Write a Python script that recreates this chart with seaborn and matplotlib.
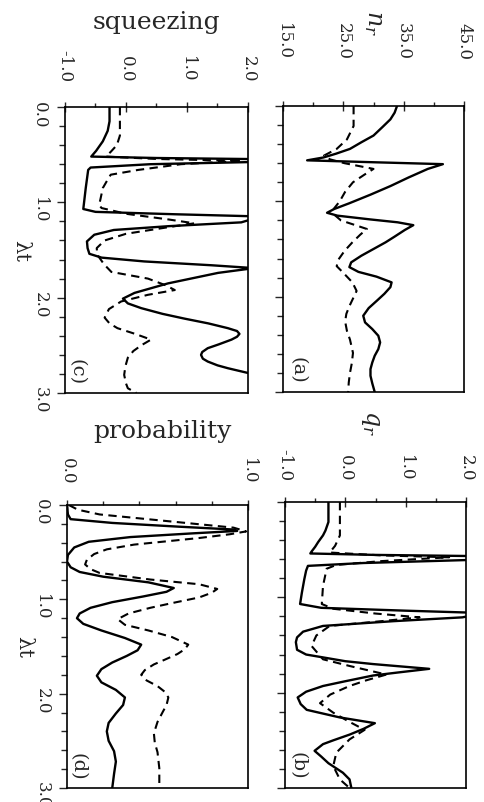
import numpy as np
import pandas as pd
import matplotlib
matplotlib.use("Agg")
import matplotlib.pyplot as plt
import seaborn as sns
from matplotlib.ticker import FormatStrFormatter, MultipleLocator

# ---- data read off the (rotated) picture: lambda*t and curve values ----
# (c) squeezing
t_sq_solid = [0.00, 0.15, 0.25, 0.36, 0.46, 0.52, 0.535, 0.55, 0.57, 0.60, 0.635, 0.66, 0.85, 1.07, 1.10,
              1.125, 1.145, 1.17, 1.21, 1.25, 1.29, 1.34, 1.41, 1.48, 1.54, 1.58, 1.62, 1.66, 1.69, 1.74,
              1.85, 1.95, 2.01, 2.06, 2.11, 2.17, 2.22, 2.27, 2.32, 2.35, 2.38, 2.41, 2.44, 2.49, 2.53,
              2.57, 2.60, 2.64, 2.67, 2.71, 2.74, 2.79, 2.90, 3.00]
sq_solid = [-0.27, -0.27, -0.30, -0.38, -0.49, -0.57, 0.5, 2.6, 2.6, 0.4, -0.58, -0.62, -0.66, -0.70, -0.5,
            0.8, 2.0, 2.1, 1.89, 0.7, -0.2, -0.52, -0.64, -0.63, -0.60, -0.40, 0.3, 1.4, 2.1, 1.51,
            0.69, 0.14, -0.05, 0.03, 0.25, 0.6, 0.96, 1.35, 1.67, 1.82, 1.86, 1.82, 1.73, 1.52, 1.34,
            1.25, 1.23, 1.26, 1.34, 1.5, 1.67, 2.0, 2.6, 3.0]
t_sq_dash = [0.00, 0.30, 0.40, 0.47, 0.52, 0.545, 0.565, 0.60, 0.66, 0.71, 0.75, 0.85, 1.03, 1.06, 1.12,
             1.18, 1.22, 1.26, 1.33, 1.40, 1.48, 1.55, 1.65, 1.73, 1.80, 1.87, 1.92, 1.97, 2.04, 2.12,
             2.21, 2.27, 2.32, 2.38, 2.44, 2.50, 2.56, 2.63, 2.72, 2.81, 2.90, 2.95, 3.00]
sq_dash = [-0.10, -0.10, -0.15, -0.25, -0.33, 0.5, 1.9, 0.9, 0.2, -0.25, -0.29, -0.38, -0.44, -0.40, 0.0,
           0.7, 1.12, 0.7, 0.0, -0.35, -0.48, -0.47, -0.36, -0.24, 0.36, 0.65, 0.80, 0.36, -0.08, -0.28,
           -0.35, -0.27, -0.14, 0.15, 0.41, 0.25, 0.12, 0.03, -0.01, -0.03, 0.0, 0.03, 0.17]

# (a) n_r
t_n_solid = [0.00, 0.07, 0.14, 0.22, 0.31, 0.38, 0.45, 0.50, 0.54, 0.57, 0.59, 0.61, 0.66, 0.75, 0.84,
             0.93, 1.02, 1.08, 1.12, 1.15, 1.19, 1.22, 1.25, 1.30, 1.37, 1.43, 1.50, 1.57, 1.64, 1.69,
             1.74, 1.79, 1.85, 1.90, 1.97, 2.04, 2.12, 2.20, 2.27, 2.34, 2.41, 2.48, 2.55, 2.62, 2.69,
             2.76, 2.83, 2.91, 3.00]
n_solid = [33.9, 33.5, 32.8, 31.5, 30.0, 28.0, 26.1, 23.8, 21.7, 19.0, 30.0, 41.5, 39.0, 35.8, 32.8,
           29.5, 26.0, 23.5, 22.3, 24.0, 29.5, 34.0, 36.6, 35.2, 33.5, 32.0, 30.0, 28.0, 26.3, 26.0,
           27.5, 30.5, 33.0, 32.8, 31.8, 30.6, 29.2, 28.3, 28.6, 29.8, 30.8, 31.1, 30.8, 30.2, 29.8,
           29.5, 29.5, 29.8, 30.2]
t_n_dash = [0.00, 0.21, 0.35, 0.45, 0.52, 0.56, 0.60, 0.66, 0.72, 0.80, 0.90, 1.00, 1.08, 1.14, 1.20,
            1.25, 1.29, 1.35, 1.43, 1.52, 1.61, 1.68, 1.75, 1.85, 1.94, 2.02, 2.10, 2.18, 2.26, 2.36,
            2.45, 2.59, 2.70, 2.80, 2.90, 3.00]
n_dash = [26.7, 26.7, 25.6, 23.9, 21.8, 22.8, 25.2, 30.0, 28.5, 26.6, 25.3, 24.4, 23.4, 23.5, 24.6,
          27.0, 28.9, 27.8, 26.5, 25.2, 24.2, 23.9, 25.0, 26.5, 27.2, 26.6, 26.0, 25.5, 25.3, 25.6,
          26.1, 26.6, 26.4, 26.1, 25.9, 25.8]

# (d) probability
t_p_solid = [0.00, 0.10, 0.15, 0.19, 0.23, 0.26, 0.275, 0.30, 0.34, 0.39, 0.45, 0.53, 0.60, 0.66, 0.71,
             0.76, 0.82, 0.88, 0.92, 0.97, 1.03, 1.09, 1.15, 1.20, 1.26, 1.33, 1.41, 1.48, 1.54, 1.60,
             1.67, 1.74, 1.81, 1.88, 1.96, 2.04, 2.12, 2.21, 2.31, 2.40, 2.50, 2.61, 2.72, 2.85, 3.00]
p_solid = [0.00, 0.005, 0.02, 0.25, 0.62, 0.92, 0.94, 0.70, 0.35, 0.12, 0.04, 0.005, 0.00, 0.02, 0.07,
           0.20, 0.45, 0.59, 0.55, 0.42, 0.25, 0.13, 0.07, 0.055, 0.09, 0.19, 0.32, 0.41, 0.39, 0.33,
           0.25, 0.19, 0.165, 0.19, 0.27, 0.32, 0.31, 0.27, 0.23, 0.22, 0.23, 0.26, 0.27, 0.26, 0.25]
t_p_dash = [0.00, 0.05, 0.10, 0.17, 0.24, 0.28, 0.31, 0.35, 0.42, 0.47, 0.52, 0.58, 0.63, 0.68, 0.72,
            0.79, 0.84, 0.89, 0.93, 0.98, 1.04, 1.09, 1.15, 1.21, 1.27, 1.33, 1.40, 1.48, 1.53, 1.58,
            1.64, 1.69, 1.75, 1.80, 1.86, 1.92, 1.98, 2.04, 2.12, 2.19, 2.30, 2.42, 2.52, 2.62, 2.79, 3.00]
p_dash = [0.01, 0.06, 0.18, 0.55, 0.92, 0.99, 0.90, 0.73, 0.37, 0.22, 0.15, 0.11, 0.10, 0.13, 0.18,
          0.46, 0.73, 0.83, 0.80, 0.73, 0.58, 0.46, 0.34, 0.28, 0.32, 0.45, 0.58, 0.67, 0.65, 0.61,
          0.54, 0.48, 0.43, 0.41, 0.44, 0.50, 0.54, 0.56, 0.55, 0.53, 0.50, 0.48, 0.485, 0.50, 0.51, 0.51]

# (b) q_r
t_q_solid = [0.00, 0.21, 0.30, 0.35, 0.42, 0.47, 0.52, 0.54, 0.555, 0.57, 0.60, 0.64, 0.67, 0.72, 0.81,
             0.95, 1.07, 1.11, 1.14, 1.16, 1.19, 1.21, 1.25, 1.30, 1.36, 1.42, 1.47, 1.55, 1.60, 1.63,
             1.67, 1.70, 1.75, 1.79, 1.82, 1.88, 1.93, 1.99, 2.05, 2.12, 2.18, 2.26, 2.32, 2.38, 2.44,
             2.50, 2.54, 2.61, 2.67, 2.74, 2.84, 2.91, 3.00]
q_solid = [-0.28, -0.28, -0.33, -0.37, -0.45, -0.50, -0.56, -0.58, 0.5, 2.5, 2.5, 0.3, -0.62, -0.65, -0.68,
           -0.72, -0.75, -0.4, 1.0, 2.05, 2.1, 1.94, 0.8, -0.37, -0.70, -0.80, -0.82, -0.80, -0.65, -0.37,
           0.0, 0.46, 1.39, 0.85, 0.46, 0.0, -0.37, -0.65, -0.79, -0.74, -0.64, -0.09, 0.49, 0.30, 0.07,
           -0.20, -0.37, -0.51, -0.40, -0.28, -0.04, 0.07, 0.10]
t_q_dash = [0.00, 0.35, 0.46, 0.53, 0.56, 0.58, 0.62, 0.66, 0.70, 0.88, 1.07, 1.12, 1.17, 1.21, 1.25,
            1.30, 1.40, 1.51, 1.65, 1.72, 1.81, 1.87, 1.93, 2.02, 2.11, 2.21, 2.30, 2.39, 2.49, 2.63,
            2.77, 2.91, 3.00]
q_dash = [-0.09, -0.09, -0.17, -0.26, 0.6, 1.72, 0.6, -0.15, -0.31, -0.37, -0.39, -0.2, 0.5, 1.23, 0.6,
          -0.26, -0.48, -0.56, -0.37, 0.07, 0.68, 0.35, 0.07, -0.25, -0.42, -0.20, 0.05, 0.32, 0.07, -0.15,
          -0.20, -0.09, 0.07]

# tick positions on the value axes
sq_ticks = [-1.0, 0.0, 1.0, 2.0]
n_ticks = [15.0, 25.0, 35.0, 45.0]
p_ticks = [0.0, 1.0]

sns.set_style("white")
plt.rcParams["font.family"] = ["DejaVu Serif"]
plt.rcParams["mathtext.fontset"] = "dejavuserif"

W, H = 485, 803
fig = plt.figure(figsize=(W / 100, H / 100), dpi=100)


def box(x0, x1, y0, y1):
    return [x0 / W, 1 - y1 / H, (x1 - x0) / W, (y1 - y0) / H]


ax_c = fig.add_axes(box(65, 248, 108, 394))
ax_a = fig.add_axes(box(283, 464, 107, 393))
ax_d = fig.add_axes(box(67, 248, 506, 789))
ax_b = fig.add_axes(box(285, 466, 503, 789))


def draw(ax, t, v, dashed):
    df = pd.DataFrame({"v": v, "t": t})
    ls = (0, (4, 2.6)) if dashed else "-"
    sns.lineplot(data=df, x="v", y="t", sort=False, estimator=None, color="black",
                 lw=1.7 if not dashed else 1.5, linestyle=ls, ax=ax)


def setup(ax, lim, ticks, minor, vpad, tlabels, label, lab_xy, lab_rot, lab_size, tag, tag_xy):
    ax.set_xlim(lim)
    ax.set_ylim(3, 0)
    ax.xaxis.tick_top()
    ax.set_xticks(ticks)
    ax.xaxis.set_minor_locator(MultipleLocator(minor))
    ax.xaxis.set_major_formatter(FormatStrFormatter("%.1f"))
    ax.tick_params(axis="x", which="major", direction="inout", length=7, width=1,
                   pad=vpad, labelsize=12, labelrotation=-90, top=True, bottom=False)
    ax.tick_params(axis="x", which="minor", direction="out", length=3, width=1, top=True, bottom=False)
    ax.yaxis.set_major_locator(MultipleLocator(1.0))
    ax.yaxis.set_minor_locator(MultipleLocator(0.2))
    ax.yaxis.set_major_formatter(FormatStrFormatter("%.1f"))
    ax.tick_params(axis="y", which="major", direction="out", length=6, width=1, pad=6,
                   labelsize=12, labelrotation=-90, left=True, right=False, labelleft=tlabels)
    ax.tick_params(axis="y", which="minor", direction="out", length=4, width=1, left=True, right=False)
    for s in ax.spines.values():
        s.set_linewidth(1.2)
        s.set_color("black")
    ax.set_xlabel(label, rotation=lab_rot, fontsize=lab_size, va="center", ha="center")
    ax.xaxis.set_label_position("top")
    ax.xaxis.set_label_coords(*lab_xy)
    if tlabels:
        ax.set_ylabel("λt", rotation=-90, fontsize=15, va="center", ha="center")
        ax.yaxis.set_label_coords(-0.24, 0.5)
    else:
        ax.set_ylabel("")
    ax.text(tag_xy[0], tag_xy[1], tag, transform=ax.transAxes, rotation=-90,
            fontsize=14, ha="center", va="center")


draw(ax_c, t_sq_solid, sq_solid, False)
draw(ax_c, t_sq_dash, sq_dash, True)
draw(ax_a, t_n_solid, n_solid, False)
draw(ax_a, t_n_dash, n_dash, True)
draw(ax_d, t_p_solid, p_solid, False)
draw(ax_d, t_p_dash, p_dash, True)
draw(ax_b, t_q_solid, q_solid, False)
draw(ax_b, t_q_dash, q_dash, True)

setup(ax_c, (-1, 2), sq_ticks, 0.5, 15, True, "squeezing", (0.50, 1.275), 0, 18, "(c)", (0.065, 0.075))
setup(ax_a, (15, 45), n_ticks, 5, 30, False, "$n_r$", (0.50, 1.27), -90, 17, "(a)", (0.08, 0.08))
setup(ax_d, (0, 1), p_ticks, 0.2, 12, True, "probability", (0.53, 1.24), 0, 18, "(d)", (0.06, 0.08))
setup(ax_b, (-1, 2), sq_ticks, 0.5, 12, False, "$q_r$", (0.47, 1.26), -90, 17, "(b)", (0.07, 0.08))

fig.savefig("out.png", dpi=100, facecolor="white")
